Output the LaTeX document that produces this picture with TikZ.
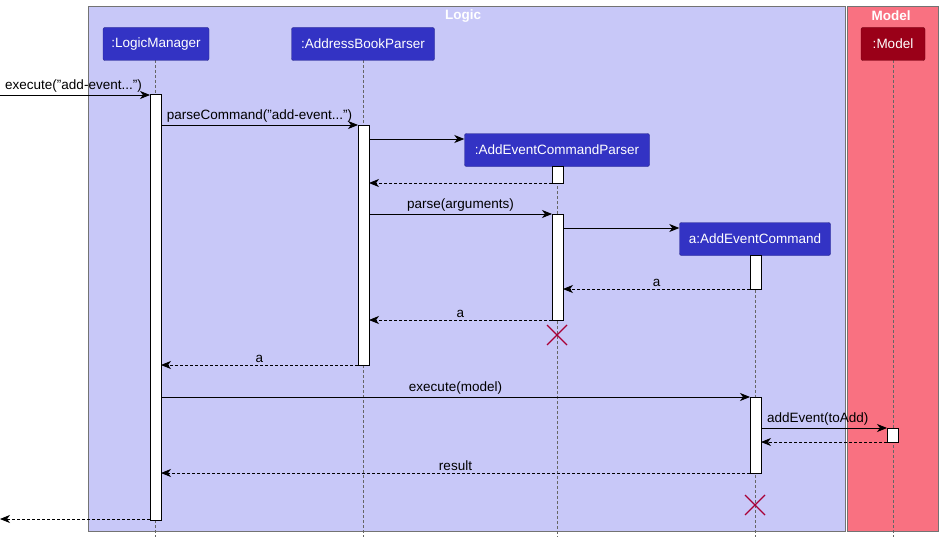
\documentclass[tikz,border=0pt]{standalone}
\usepackage{fontspec}
\setmainfont{Liberation Sans}
\usetikzlibrary{arrows.meta,positioning}
\definecolor{logicbg}{HTML}{C8C8F8}
\definecolor{modelbg}{HTML}{F97181}
\definecolor{partblue}{HTML}{3333C4}
\definecolor{partred}{HTML}{9A0018}
\definecolor{killred}{HTML}{A80036}
\tikzset{
  part/.style={draw=partblue!70!black,fill=partblue,text=white,rounded corners=2pt,
    minimum height=33pt,inner xsep=0pt,font=\fontsize{13.5}{15}\selectfont},
  life/.style={densely dashed,draw=gray!80!black,line width=0.6pt},
  act/.style={draw=black,fill=white,line width=0.8pt},
  msg/.style={-{Stealth[length=10pt,width=8pt,inset=3pt]},line width=0.8pt},
  ret/.style={msg,densely dashed},
  lbl/.style={font=\fontsize{13.5}{15}\selectfont,above,inner sep=2pt},
  kill/.style={killred,line width=1.2pt}
}
\begin{document}
\begin{tikzpicture}[x=1pt,y=-1pt]
  \useasboundingbox (0,0) rectangle (943,543);
  % boxes
  \draw[gray!90!black,fill=logicbg] (88,6) rectangle (845,531);
  \draw[gray!90!black,fill=modelbg] (847,6) rectangle (938,531);
  \node[text=white,font=\fontsize{13.5}{15}\selectfont\bfseries] (logic) at (463,16) {Logic};
  \node[text=white,font=\fontsize{13.5}{15}\selectfont\bfseries] (model) at (891,16) {Model};
  % lifelines
  \draw[life] (155,60) -- (155,537);
  \draw[life] (363,60) -- (363,537);
  \draw[life] (557,166) -- (557,537);
  \draw[life] (755,255) -- (755,537);
  \draw[life] (893,60) -- (893,537);
  % participants
  \node[part,minimum width=106pt] (lm) at (156,44) {:LogicManager};
  \node[part,minimum width=143pt] (abp) at (363,44) {:AddressBookParser};
  \node[part,minimum width=185pt] (aecp) at (557,150) {:AddEventCommandParser};
  \node[part,minimum width=151pt] (aec) at (755,239) {a:AddEventCommand};
  \node[part,minimum width=64pt,fill=partred,draw=partred!70!black] (mdl) at (893,44) {:Model};
  % activations
  \draw[act] (150,94) rectangle (161,520);
  \draw[act] (358,125) rectangle (369,365);
  \draw[act] (552,166) rectangle (563,183);
  \draw[act] (552,214) rectangle (563,320);
  \draw[act] (750,255) rectangle (761,289);
  \draw[act] (750,397) rectangle (761,473);
  \draw[act] (887,428) rectangle (898,442);
  % messages
  \coordinate (in) at (0,95);
  \coordinate (out) at (0,519);
  \draw[msg] (in) -- node[lbl,pos=0.49] {execute("add-event...")} (150,95);
  \draw[msg] (161,125) -- node[lbl] {parseCommand("add-event...")} (358,125);
  \draw[msg] (369,139) -- (aecp.west |- 0,139);
  \draw[ret] (552,183) -- (369,183);
  \draw[msg] (369,214) -- node[lbl] {parse(arguments)} (552,214);
  \draw[msg] (563,228) -- (aec.west |- 0,228);
  \draw[ret] (750,289) -- node[lbl] {a} (563,289);
  \draw[ret] (552,320) -- node[lbl] {a} (369,320);
  \draw[ret] (358,365) -- node[lbl] {a} (161,365);
  \draw[msg] (161,397) -- node[lbl] {execute(model)} (750,397);
  \draw[msg] (761,428) -- node[lbl,pos=0.45] {addEvent(toAdd)} (887,428);
  \draw[ret] (887,442) -- (761,442);
  \draw[ret] (750,473) -- node[lbl] {result} (161,473);
  \draw[ret] (150,519) -- (out);
  % destroy marks
  \draw[kill] (547,325) -- (567,345) (547,345) -- (567,325);
  \draw[kill] (745,495) -- (765,515) (745,515) -- (765,495);
\end{tikzpicture}
\end{document}
